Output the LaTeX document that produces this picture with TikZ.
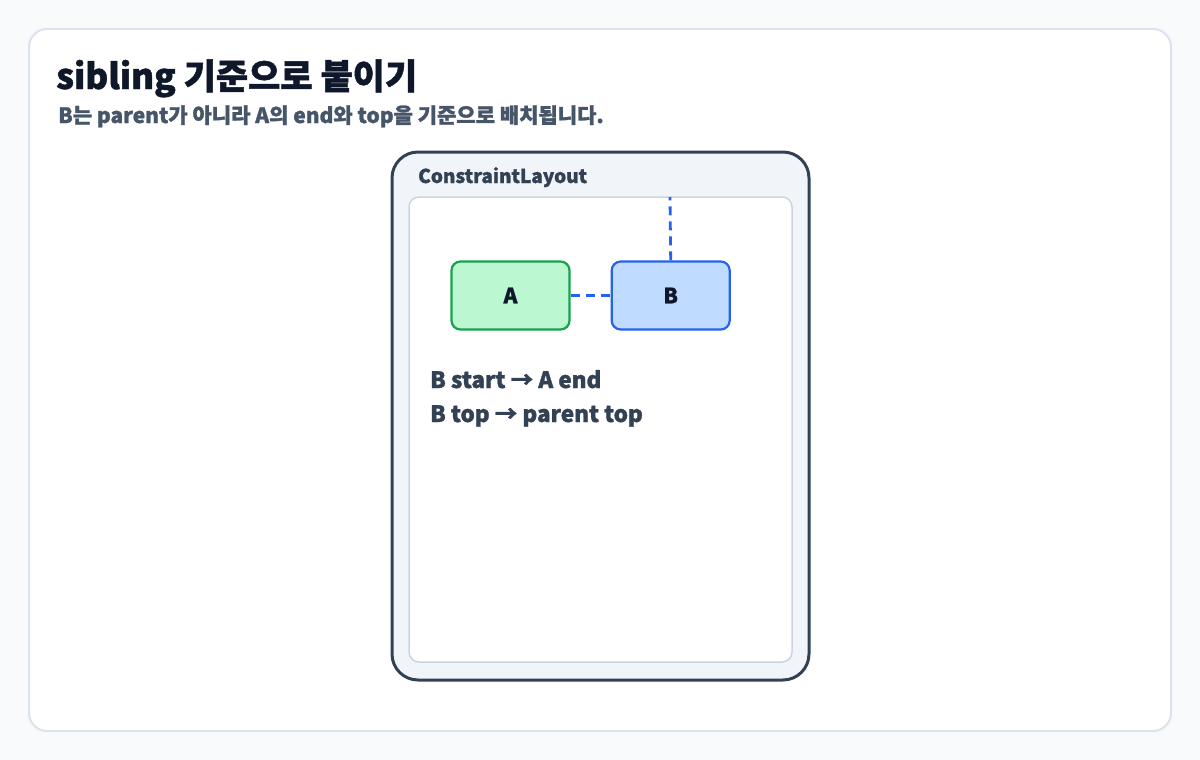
\documentclass[tikz,border=0pt]{standalone}
\usepackage{fontspec}
\setmainfont{Noto Sans CJK KR}[BoldFeatures={FakeBold=1.3}]
\usetikzlibrary{positioning}

\definecolor{pagebg}{HTML}{F8FAFC}
\definecolor{cardline}{HTML}{DBE3EE}
\definecolor{ink}{HTML}{0F172A}
\definecolor{subink}{HTML}{475569}
\definecolor{slate}{HTML}{334155}
\definecolor{panel}{HTML}{F1F5F9}
\definecolor{innerline}{HTML}{CBD5E1}
\definecolor{agreen}{HTML}{16A34A}
\definecolor{agreenfill}{HTML}{BBF7D0}
\definecolor{bblue}{HTML}{2563EB}
\definecolor{bbluefill}{HTML}{BFDBFE}

\tikzset{
  viewbox/.style={draw=#1, line width=2.2pt, rounded corners=9pt, minimum width=118pt,
    minimum height=68pt, inner sep=0pt, font=\fontsize{21}{25}\selectfont\bfseries, text=ink},
  constraint/.style={draw=bblue, line width=2.8pt, dash pattern=on 9pt off 6pt},
  note/.style={anchor=base west, inner sep=0pt, text=slate, font=\fontsize{22.5}{26}\selectfont\bfseries}
}

\begin{document}
\begin{tikzpicture}[x=1pt, y=-1pt]

  % page and card
  \fill[pagebg] (0,0) rectangle (1200,760);
  \useasboundingbox (0,0) rectangle (1200,760);
  \draw[cardline, line width=2pt, fill=white, rounded corners=18pt] (29,29) rectangle (1171,731);

  % headings
  \node[anchor=base west, inner sep=0pt, text=ink, font=\fontsize{35}{40}\selectfont\bfseries]
    (title) at (56,89) {sibling 기준으로 붙이기};
  \node[anchor=base west, inner sep=0pt, text=subink, font=\fontsize{21}{25}\selectfont\bfseries]
    (subtitle) at (58,123) {B는 parent가 아니라 A의 end와 top을 기준으로 배치됩니다.};

  % parent layout
  \draw[slate, line width=3pt, fill=panel, rounded corners=26pt] (392,152) rectangle (809,680);
  \node[anchor=base west, inner sep=0pt, text=slate, font=\fontsize{19}{22}\selectfont\bfseries]
    (layout) at (418,183) {ConstraintLayout};
  \draw[innerline, line width=1.5pt, fill=white, rounded corners=10pt] (409,197) rectangle (792,662);
  \coordinate (parenttop) at (670,197);

  % children
  \node[viewbox=agreen, fill=agreenfill] (A) at (510.5,295.5) {A};
  \node[viewbox=bblue, fill=bbluefill, right=40pt of A] (B) {B};

  \draw[constraint] (A.east) -- (B.west);
  \draw[constraint] (B.north) -- (parenttop);

  \node[note] (rule1) at (430,388) {B start → A end};
  \node[note] (rule2) at (430,422) {B top → parent top};

\end{tikzpicture}
\end{document}
